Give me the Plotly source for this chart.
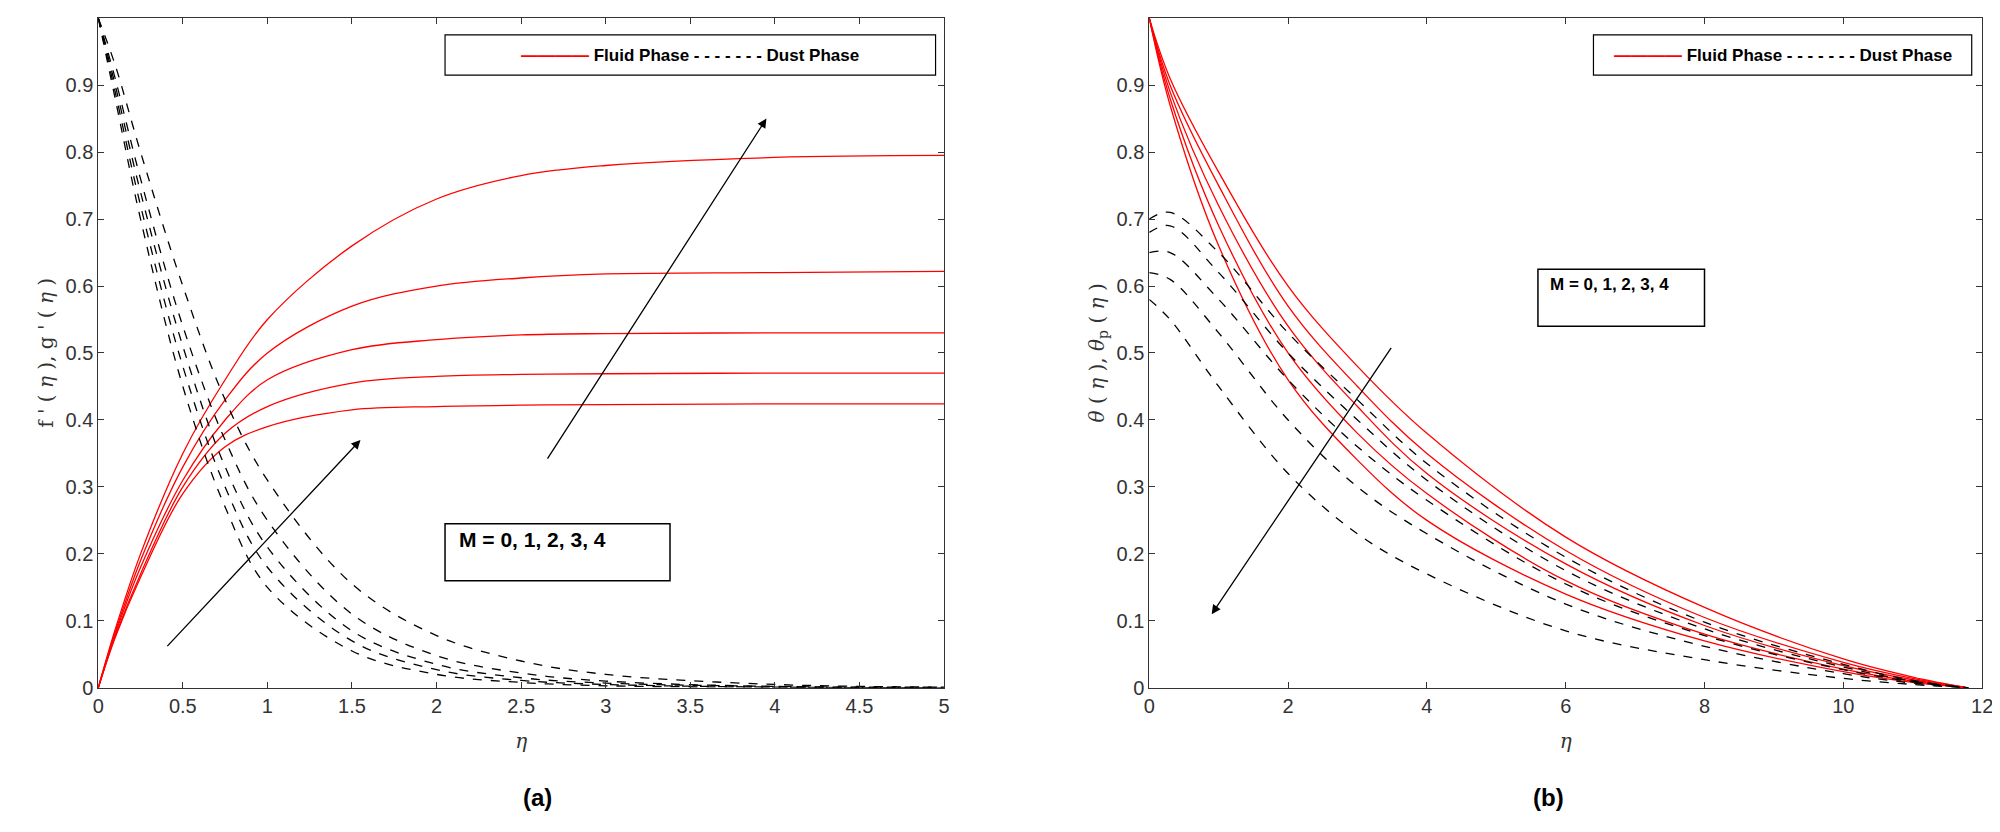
import plotly.graph_objects as go

# Panel (a)
eta_a = [0, 0.1, 0.25, 0.5, 0.75, 1, 1.5, 2, 2.5, 3, 4, 5]
fluid_a = [
    [0, 0.075, 0.165, 0.29, 0.36, 0.39, 0.415, 0.42, 0.422, 0.423, 0.424, 0.424],
    [0, 0.077, 0.17, 0.30, 0.38, 0.42, 0.455, 0.465, 0.468, 0.469, 0.47, 0.47],
    [0, 0.08, 0.18, 0.31, 0.40, 0.46, 0.505, 0.52, 0.527, 0.529, 0.53, 0.53],
    [0, 0.083, 0.19, 0.33, 0.43, 0.50, 0.57, 0.60, 0.612, 0.618, 0.62, 0.622],
    [0, 0.087, 0.20, 0.35, 0.46, 0.55, 0.66, 0.73, 0.765, 0.78, 0.792, 0.795],
]
dust_a = [
    [1, 0.88, 0.70, 0.45, 0.27, 0.15, 0.055, 0.02, 0.008, 0.003, 0.001, 0],
    [1, 0.89, 0.72, 0.48, 0.30, 0.18, 0.07, 0.027, 0.011, 0.005, 0.001, 0],
    [1, 0.90, 0.74, 0.51, 0.33, 0.21, 0.085, 0.035, 0.015, 0.007, 0.002, 0],
    [1, 0.91, 0.76, 0.54, 0.37, 0.25, 0.11, 0.048, 0.022, 0.01, 0.002, 0.001],
    [1, 0.93, 0.80, 0.60, 0.43, 0.31, 0.155, 0.078, 0.04, 0.02, 0.005, 0.001],
]
# Panel (b)
eta_b = [0, 0.3, 1, 2, 3, 4, 6, 8, 10, 11, 11.8]
fluid_b = [
    [1, 0.87, 0.66, 0.46, 0.34, 0.25, 0.14, 0.07, 0.024, 0.008, 0],
    [1, 0.88, 0.69, 0.50, 0.38, 0.29, 0.16, 0.08, 0.028, 0.01, 0],
    [1, 0.89, 0.72, 0.54, 0.42, 0.32, 0.185, 0.093, 0.033, 0.012, 0],
    [1, 0.90, 0.75, 0.57, 0.45, 0.35, 0.205, 0.105, 0.038, 0.014, 0],
    [1, 0.91, 0.77, 0.60, 0.48, 0.38, 0.225, 0.12, 0.043, 0.016, 0],
]
dust_b = [
    [0.58, 0.55, 0.45, 0.32, 0.23, 0.17, 0.085, 0.042, 0.014, 0.005, 0],
    [0.62, 0.61, 0.53, 0.40, 0.30, 0.23, 0.125, 0.062, 0.021, 0.007, 0],
    [0.65, 0.65, 0.58, 0.46, 0.36, 0.28, 0.155, 0.078, 0.027, 0.009, 0],
    [0.68, 0.69, 0.62, 0.50, 0.40, 0.31, 0.175, 0.088, 0.031, 0.01, 0],
    [0.70, 0.71, 0.65, 0.53, 0.43, 0.335, 0.195, 0.098, 0.035, 0.011, 0],
]
legend_text = "Fluid Phase"
legend_text2 = "Dust Phase"
m_label = "M = 0, 1, 2, 3, 4"

fig = go.Figure()
for ys in fluid_a:
    fig.add_trace(go.Scatter(x=eta_a, y=ys, mode="lines", line=dict(color="red", width=1.3, shape="spline"), xaxis="x", yaxis="y"))
for ys in dust_a:
    fig.add_trace(go.Scatter(x=eta_a, y=ys, mode="lines", line=dict(color="black", width=1.3, dash="dash", shape="spline"), xaxis="x", yaxis="y"))
for ys in fluid_b:
    fig.add_trace(go.Scatter(x=eta_b, y=ys, mode="lines", line=dict(color="red", width=1.3, shape="spline"), xaxis="x2", yaxis="y2"))
for ys in dust_b:
    fig.add_trace(go.Scatter(x=eta_b, y=ys, mode="lines", line=dict(color="black", width=1.3, dash="dash", shape="spline"), xaxis="x2", yaxis="y2"))

axcommon = dict(showline=True, linecolor="#333", mirror="ticks", ticks="inside", ticklen=6, tickcolor="#333",
                showgrid=False, zeroline=False, tickfont=dict(family="Liberation Sans Narrow, Arial", size=20, color="#333"))
titlefont = dict(family="DejaVu Serif", size=20, color="#333")
yt = [0, 0.1, 0.2, 0.3, 0.4, 0.5, 0.6, 0.7, 0.8, 0.9, 1]
fig.update_layout(
    width=2000, height=832, plot_bgcolor="white", paper_bgcolor="white", showlegend=False,
    margin=dict(l=0, r=0, t=0, b=0),
    xaxis=dict(domain=[0.0425, 0.469], range=[0, 5], dtick=0.5, anchor="y",
               title=dict(text="<i>η</i>", font=titlefont, standoff=18), **axcommon),
    yaxis=dict(domain=[0.172, 0.988], range=[0, 1.0005], tickvals=yt, ticktext=[str(v) for v in yt], anchor="x",
               title=dict(text="f ' ( <i>η</i> ), g ' ( <i>η</i> )", font=titlefont, standoff=6), **axcommon),
    xaxis2=dict(domain=[0.5725, 0.9925], range=[0, 12], dtick=2, anchor="y2",
                title=dict(text="<i>η</i>", font=titlefont, standoff=18), **axcommon),
    yaxis2=dict(domain=[0.172, 0.988], range=[0, 1.0005], tickvals=yt, ticktext=[str(v) for v in yt], anchor="x2",
                title=dict(text="<i>θ</i> ( <i>η</i> ), <i>θ</i><sub>p</sub> ( <i>η</i> )", font=titlefont, standoff=6), **axcommon),
)

bold = dict(family="Liberation Sans, Arial", size=17, color="black")
leg = "<b><span style='color:red'>————</span> " + legend_text + " - - - - - - - " + legend_text2 + "</b>"
for xr, yr, x0, x1 in [("x", "y", 2.05, 4.95), ("x2", "y2", 6.4, 11.85)]:
    fig.add_shape(type="rect", xref=xr, yref=yr, x0=x0, x1=x1, y0=0.915, y1=0.975, line=dict(color="black", width=1.2), fillcolor="white")
    fig.add_annotation(xref=xr, yref=yr, x=(x0 + x1) / 2, y=0.945, text=leg, showarrow=False, font=bold)

fig.add_shape(type="rect", xref="x", yref="y", x0=2.05, x1=3.38, y0=0.16, y1=0.245, line=dict(color="black", width=1.5), fillcolor="white")
fig.add_annotation(xref="x", yref="y", x=2.12, y=0.222, xanchor="left", text="<b>" + m_label + "</b>", showarrow=False,
                   font=dict(family="Liberation Sans Narrow, Arial", size=21, color="black"))
fig.add_shape(type="rect", xref="x2", yref="y2", x0=5.6, x1=8.0, y0=0.54, y1=0.625, line=dict(color="black", width=1.5), fillcolor="white")
fig.add_annotation(xref="x2", yref="y2", x=5.75, y=0.602, xanchor="left", text="<b>" + m_label + "</b>", showarrow=False, font=bold)

arrows = [("x", "y", 0.4, 0.06, 1.55, 0.37), ("x", "y", 2.65, 0.34, 3.95, 0.85), ("x2", "y2", 3.5, 0.51, 0.9, 0.11)]
for xr, yr, ax, ay, x, y in arrows:
    fig.add_annotation(xref=xr, yref=yr, axref=xr, ayref=yr, x=x, y=y, ax=ax, ay=ay, showarrow=True,
                       arrowhead=2, arrowsize=1.4, arrowwidth=1.3, arrowcolor="black", text="")

fig.add_annotation(xref="paper", yref="paper", x=0.2558, y=0.02, text="<b>(a)</b>", showarrow=False,
                   font=dict(family="Liberation Sans, Arial", size=24, color="black"))
fig.add_annotation(xref="paper", yref="paper", x=0.7825, y=0.02, text="<b>(b)</b>", showarrow=False,
                   font=dict(family="Liberation Sans, Arial", size=24, color="black"))

fig.write_html("out.html")
